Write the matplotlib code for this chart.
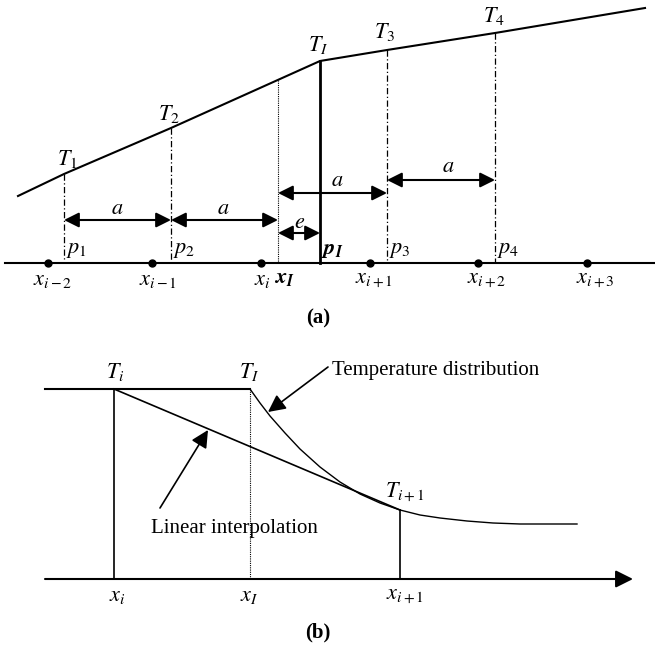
import matplotlib
matplotlib.use("Agg")
import matplotlib.pyplot as plt

plt.rcParams["font.family"] = ["Liberation Serif", "DejaVu Serif"]
plt.rcParams["mathtext.fontset"] = "stix"

W, H = 655, 647

# ---- panel (a): piecewise-linear temperature over the grid ----
node_x = [48, 152, 261, 370, 478, 587]
node_labels = [r"$x_{i-2}$", r"$x_{i-1}$", r"$x_i$", r"$x_{i+1}$", r"$x_{i+2}$", r"$x_{i+3}$"]
node_label_x = [53, 158, 262, 374, 487, 595]

temp_x = [18, 64, 171, 320, 387, 495, 645]
temp_y = [196, 174, 128, 61, 50, 33, 8]

probe_x = [64, 171, 387, 495]          # p1, p2, p3, p4 (dash-dot)
probe_top = [174, 128, 50, 33]
probe_labels = [r"$p_1$", r"$p_2$", r"$p_3$", r"$p_4$"]
xI_a = 278                              # dotted x_I
pI_a = 320                              # interface p_I

T_labels = [r"$T_1$", r"$T_2$", r"$T_I$", r"$T_3$", r"$T_4$"]
T_label_xy = [(67, 159), (169, 114), (318, 45), (385, 32), (494, 16)]

# spacing arrows: (x0, x1, y, label, label_x, label_y)
spans = [
    (64, 171, 220, r"$a$", 117, 209),
    (171, 278, 220, r"$a$", 223, 209),
    (278, 320, 233, r"$e$", 300, 223),
    (278, 387, 193, r"$a$", 337, 182),
    (387, 495, 180, r"$a$", 448, 168),
]

# ---- panel (b): linear interpolation vs temperature distribution ----
b_axis_y = 579
b_top_y = 389
b_xi, b_xI, b_xi1 = 114, 250, 400
curve_x = [250, 260, 270, 285, 300, 320, 340, 360, 380, 400, 420, 440, 467, 493, 520, 547, 577]
curve_y = [389, 403, 416, 433, 449, 467, 482, 494, 503, 510, 515, 518, 521, 523, 524, 524, 524]
b_labels = [(r"$T_i$", 115, 372), (r"$T_I$", 249, 372), (r"$T_{i+1}$", 405, 492),
            (r"$x_i$", 117, 597), (r"$x_I$", 249, 597), (r"$x_{i+1}$", 405, 597)]

fig = plt.figure(figsize=(W / 100, H / 100), dpi=100)
ax = fig.add_axes([0, 0, 1, 1])
ax.set_xlim(0, W); ax.set_ylim(H, 0); ax.set_axis_off()

K = "black"
FS = 16

# (a)
ax.plot([5, 655], [263, 263], color=K, lw=1.5)
ax.plot(temp_x, temp_y, color=K, lw=1.5, solid_joinstyle="miter")
ax.plot(node_x, [263] * len(node_x), "o", color=K, ms=5)
for x, top in zip(probe_x, probe_top):
    ax.plot([x, x], [top, 263], color=K, lw=0.9, ls=(0, (5, 2, 1, 2)))
ax.plot([xI_a, xI_a], [80, 263], color=K, lw=0.8, ls=(0, (1, 1)))
ax.plot([pI_a, pI_a], [61, 263], color=K, lw=2.0)

for lab, (x, y) in zip(T_labels, T_label_xy):
    ax.text(x, y, lab, fontsize=FS, ha="center", va="center")
for lab, x in zip(probe_labels, probe_x):
    ax.text(x + 13, 251, lab, fontsize=FS, ha="center", va="center")
ax.text(pI_a + 12, 251, r"$\mathbfit{p}_{\mathbfit{I}}$", fontsize=FS, ha="center", va="center")
for lab, x in zip(node_labels, node_label_x):
    ax.text(x, 281, lab, fontsize=FS, ha="center", va="center")
ax.text(284, 279, r"$\mathbfit{x}_{\mathbfit{I}}$", fontsize=FS, ha="center", va="center")

for x0, x1, y, lab, lx, ly in spans:
    ax.annotate("", xy=(x1, y), xytext=(x0, y),
                arrowprops=dict(arrowstyle="<|-|>,head_length=0.6,head_width=0.3",
                                mutation_scale=15, color=K, lw=1.5, shrinkA=0, shrinkB=0))
    ax.text(lx, ly, lab, fontsize=FS, ha="center", va="center")

ax.text(318, 318, "(a)", fontsize=15, fontweight="bold", ha="center", va="center")

# (b)
ax.annotate("", xy=(633, b_axis_y), xytext=(45, b_axis_y),
            arrowprops=dict(arrowstyle="-|>,head_length=0.7,head_width=0.35",
                            mutation_scale=15, color=K, lw=1.5, shrinkA=0, shrinkB=0))
ax.plot([45, b_xI], [b_top_y, b_top_y], color=K, lw=1.5)
ax.plot([b_xi, b_xi], [b_top_y, b_axis_y], color=K, lw=1.2)
ax.plot([b_xI, b_xI], [b_top_y, b_axis_y], color=K, lw=0.8, ls=(0, (1, 1)))
ax.plot([b_xi1, b_xi1], [510, b_axis_y], color=K, lw=1.2)
ax.plot([b_xi, b_xi1], [b_top_y, 510], color=K, lw=1.2)
ax.plot(curve_x, curve_y, color=K, lw=1.0)

for lab, x, y in b_labels:
    ax.text(x, y, lab, fontsize=FS, ha="center", va="center")

ax.annotate("", xy=(268, 412), xytext=(328, 367),
            arrowprops=dict(arrowstyle="-|>,head_length=0.7,head_width=0.35",
                            mutation_scale=15, color=K, lw=1.2, shrinkA=0, shrinkB=0))
ax.text(332, 370, "Temperature distribution", fontsize=15, ha="left", va="center")
ax.annotate("", xy=(208, 430), xytext=(160, 508),
            arrowprops=dict(arrowstyle="-|>,head_length=0.7,head_width=0.35",
                            mutation_scale=15, color=K, lw=1.2, shrinkA=0, shrinkB=0))
ax.text(234, 528, "Linear interpolation", fontsize=15, ha="center", va="center")

ax.text(318, 632, "(b)", fontsize=15, fontweight="bold", ha="center", va="center")

fig.savefig("out.png", dpi=100, facecolor="white")
